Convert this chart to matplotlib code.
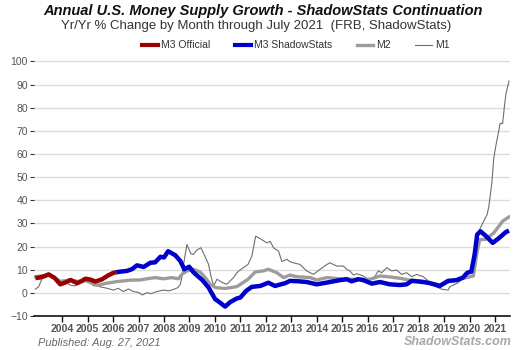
import matplotlib
matplotlib.use("Agg")
import matplotlib.pyplot as plt
from matplotlib.lines import Line2D

plt.rcParams['font.family'] = ['Liberation Sans', 'DejaVu Sans']

# M3 official (discontinued Feb 2006), decimal year / yr-yr %
m3_off_t = [2002.95, 2003.1, 2003.3, 2003.47, 2003.7, 2003.93, 2004.15, 2004.33,
            2004.59, 2004.75, 2004.91, 2005.1, 2005.31, 2005.57, 2005.8, 2006.02, 2006.12]
m3_off_v = [6.4, 6.6, 7.2, 8.0, 6.5, 3.7, 4.6, 5.6,
            4.2, 5.0, 6.1, 5.8, 4.9, 5.9, 7.5, 8.7, 8.9]

# M3 ShadowStats continuation
m3_ss_t = [2006.12, 2006.3, 2006.55, 2006.75, 2006.94, 2007.2, 2007.46, 2007.65, 2007.86,
           2008.0, 2008.16, 2008.44, 2008.64, 2008.8, 2008.99, 2009.15, 2009.29, 2009.5,
           2009.75, 2010.01, 2010.2, 2010.4, 2010.6, 2010.86, 2011.0, 2011.23, 2011.45,
           2011.78, 2012.1, 2012.36, 2012.76, 2012.95, 2013.3, 2013.6, 2014.0, 2014.52,
           2014.9, 2015.18, 2015.37, 2015.63, 2015.83, 2016.16, 2016.48, 2016.87, 2017.27,
           2017.53, 2017.73, 2018.18, 2018.44, 2018.83, 2019.16, 2019.48, 2019.74, 2019.91,
           2020.07, 2020.2, 2020.3, 2020.43, 2020.65, 2020.91, 2021.17, 2021.43, 2021.55]
m3_ss_v = [8.9, 9.2, 9.5, 10.3, 11.9, 11.2, 13.0, 13.2, 15.6,
           15.3, 18.0, 16.3, 13.8, 10.2, 11.3, 9.0, 7.6, 5.6,
           2.3, -2.7, -4.2, -5.9, -4.0, -2.4, -2.0, 0.9, 2.6,
           3.0, 4.4, 3.0, 4.2, 5.2, 5.0, 4.7, 3.7, 4.7,
           5.5, 5.9, 5.0, 5.9, 5.5, 4.0, 4.7, 3.7, 3.4,
           3.7, 5.2, 4.7, 4.2, 3.0, 5.2, 5.5, 6.6, 8.7,
           9.2, 16.6, 25.2, 26.6, 24.5, 21.6, 23.8, 26.3, 26.9]

# M2
m2_t = [2002.95, 2003.2, 2003.47, 2003.7, 2003.93, 2004.3, 2004.6, 2004.9, 2005.1, 2005.37,
        2005.76, 2006.16, 2006.68, 2007.07, 2007.33, 2007.66, 2007.98, 2008.3, 2008.57,
        2008.7, 2008.9, 2009.16, 2009.42, 2009.62, 2009.82, 2010.02, 2010.4, 2010.86,
        2011.0, 2011.3, 2011.58, 2011.9, 2012.1, 2012.43, 2012.7, 2012.95, 2013.2, 2013.74,
        2014.0, 2014.4, 2014.9, 2015.18, 2015.83, 2016.1, 2016.48, 2016.87, 2017.27,
        2017.66, 2018.05, 2018.44, 2018.83, 2019.2, 2019.6, 2019.99, 2020.15, 2020.3,
        2020.4, 2020.63, 2020.95, 2021.1, 2021.3, 2021.55]
m2_v = [7.0, 7.3, 7.8, 6.5, 5.0, 5.5, 5.0, 5.3, 4.5, 3.3,
        4.2, 4.9, 5.5, 5.6, 6.1, 6.6, 6.1, 6.6, 6.1,
        8.0, 9.5, 10.2, 9.0, 6.6, 3.7, 2.3, 1.9, 2.7,
        3.7, 5.9, 9.0, 9.5, 10.2, 8.7, 6.6, 7.7, 7.0, 6.6,
        5.6, 6.6, 6.1, 5.9, 5.9, 5.9, 7.3, 6.9, 6.3,
        5.5, 5.2, 4.4, 3.4, 4.9, 5.9, 6.9, 7.3, 18.0,
        23.0, 23.1, 25.9, 28.0, 31.0, 32.8]

# M1
m1_t = [2002.95, 2003.08, 2003.2, 2003.35, 2003.54, 2003.74, 2003.93, 2004.13, 2004.33,
        2004.52, 2004.72, 2005.04, 2005.24, 2005.37, 2005.5, 2005.76, 2006.02, 2006.2,
        2006.4, 2006.6, 2006.8, 2007.0, 2007.15, 2007.33, 2007.5, 2007.72, 2007.98,
        2008.2, 2008.4, 2008.55, 2008.64, 2008.7, 2008.78, 2008.9, 2009.05, 2009.15,
        2009.29, 2009.45, 2009.6, 2009.75, 2009.85, 2009.95, 2010.08, 2010.3, 2010.47,
        2010.6, 2010.73, 2010.86, 2011.0, 2011.3, 2011.45, 2011.6, 2011.8, 2012.04,
        2012.17, 2012.3, 2012.5, 2012.63, 2012.82, 2012.95, 2013.08, 2013.34, 2013.6,
        2013.87, 2014.13, 2014.4, 2014.52, 2014.65, 2014.78, 2015.04, 2015.18, 2015.3,
        2015.44, 2015.57, 2015.83, 2016.02, 2016.22, 2016.42, 2016.55, 2016.75, 2016.94,
        2017.14, 2017.33, 2017.53, 2017.73, 2017.92, 2018.18, 2018.44, 2018.7, 2018.9,
        2019.16, 2019.22, 2019.55, 2019.8, 2020.0, 2020.13, 2020.2, 2020.3, 2020.52,
        2020.69, 2020.76, 2020.88, 2020.95, 2021.04, 2021.14, 2021.2, 2021.3, 2021.36,
        2021.43, 2021.55]
m1_v = [1.6, 2.7, 5.9, 7.6, 8.0, 6.6, 5.2, 4.7, 3.3,
        3.0, 4.7, 5.2, 3.0, 3.3, 2.6, 2.0, 1.2, 2.0,
        0.6, 1.7, 0.6, 0.2, -0.9, 0.1, -0.3, 0.6, 1.2,
        0.9, 1.6, 2.3, 3.7, 6.6, 13.0, 20.9, 17.0, 16.6,
        18.5, 19.5, 16.0, 12.3, 7.0, 3.0, 5.9, 4.4, 3.7,
        5.2, 6.6, 8.7, 10.0, 12.3, 15.9, 24.5, 23.3, 21.6,
        22.3, 19.5, 18.0, 13.5, 14.5, 13.5, 13.0, 12.3, 9.5,
        8.0, 10.2, 12.3, 13.0, 12.3, 11.6, 11.6, 10.2, 9.5,
        7.7, 8.3, 7.3, 5.6, 6.1, 9.5, 8.7, 10.9, 9.5,
        9.9, 8.0, 8.7, 7.0, 8.0, 7.0, 4.7, 2.6, 1.6,
        1.2, 2.6, 4.4, 6.6, 6.6, 7.3, 13.8, 25.2, 30.2,
        33.8, 37.4, 48.0, 58.1, 63.9, 69.6, 73.2, 73.2, 79.6,
        86.1, 91.5]

years = list(range(2004, 2022))
yticks = list(range(-10, 101, 10))

fig = plt.figure(figsize=(5.25, 3.5), dpi=100)
ax = fig.add_axes([0.065, 0.097, 0.906, 0.731])

ax.plot(m1_t, m1_v, color='#6e6e6e', lw=0.8, zorder=2)
ax.plot(m2_t, m2_v, color='#9c9c9c', lw=2.4, zorder=3)
ax.plot(m3_ss_t, m3_ss_v, color='#0000cc', lw=3.2, zorder=4, solid_capstyle='butt')
ax.plot(m3_off_t, m3_off_v, color='#990000', lw=3.2, zorder=5, solid_capstyle='butt')

ax.set_xlim(2002.9, 2021.58)
ax.set_ylim(-10, 100.5)
ax.set_yticks(yticks)
ax.set_xticks(years)
ax.set_xticklabels([str(y) for y in years], fontweight='bold', fontsize=7.6,
                   color='#555555', family=['Liberation Sans Narrow', 'Liberation Sans'])
ax.tick_params(axis='y', labelsize=7.5, labelcolor='#555555', length=3,
               color='#333333', width=0.8, pad=1.5)
ax.tick_params(axis='x', length=4, color='#111111', width=1.0, pad=2)
ax.grid(axis='y', color='#dcdcdc', lw=1.0)
ax.set_axisbelow(True)
for s in ['top', 'right', 'left']:
    ax.spines[s].set_visible(False)
ax.spines['bottom'].set_color('#111111')
ax.spines['bottom'].set_linewidth(1.2)

fig.text(0.5, 1 - 11 / 350, 'Annual U.S. Money Supply Growth - ShadowStats Continuation',
         ha='center', va='center', fontsize=10.5, fontweight='bold', fontstyle='italic',
         color='#111111')
fig.text(0.488, 1 - 26 / 350, 'Yr/Yr % Change by Month through July 2021  (FRB, ShadowStats)',
         ha='center', va='center', fontsize=9.5, color='#333333')

handles = [Line2D([], [], color='#990000', lw=3.0),
           Line2D([], [], color='#0000cc', lw=3.0),
           Line2D([], [], color='#9c9c9c', lw=2.4),
           Line2D([], [], color='#6e6e6e', lw=0.8)]
labels = ['M3 Official', 'M3 ShadowStats', 'M2', 'M1']
fig.legend(handles, labels, loc='center', bbox_to_anchor=(0.563, 1 - 45.5 / 350),
           ncol=4, frameon=False, fontsize=7.5, handlelength=1.6, handletextpad=0.3,
           columnspacing=2.3, labelcolor='#333333')

fig.text(38 / 525, 1 - 342.5 / 350, 'Published: Aug. 27, 2021', ha='left', va='center',
         fontsize=7.9, fontstyle='italic', color='#666666')
fig.text(512 / 525, 1 - 342 / 350, 'ShadowStats.com', ha='right', va='center',
         fontsize=9, fontstyle='italic', fontweight='bold', color='#a8a8a8')

fig.savefig('out.png', dpi=100)
